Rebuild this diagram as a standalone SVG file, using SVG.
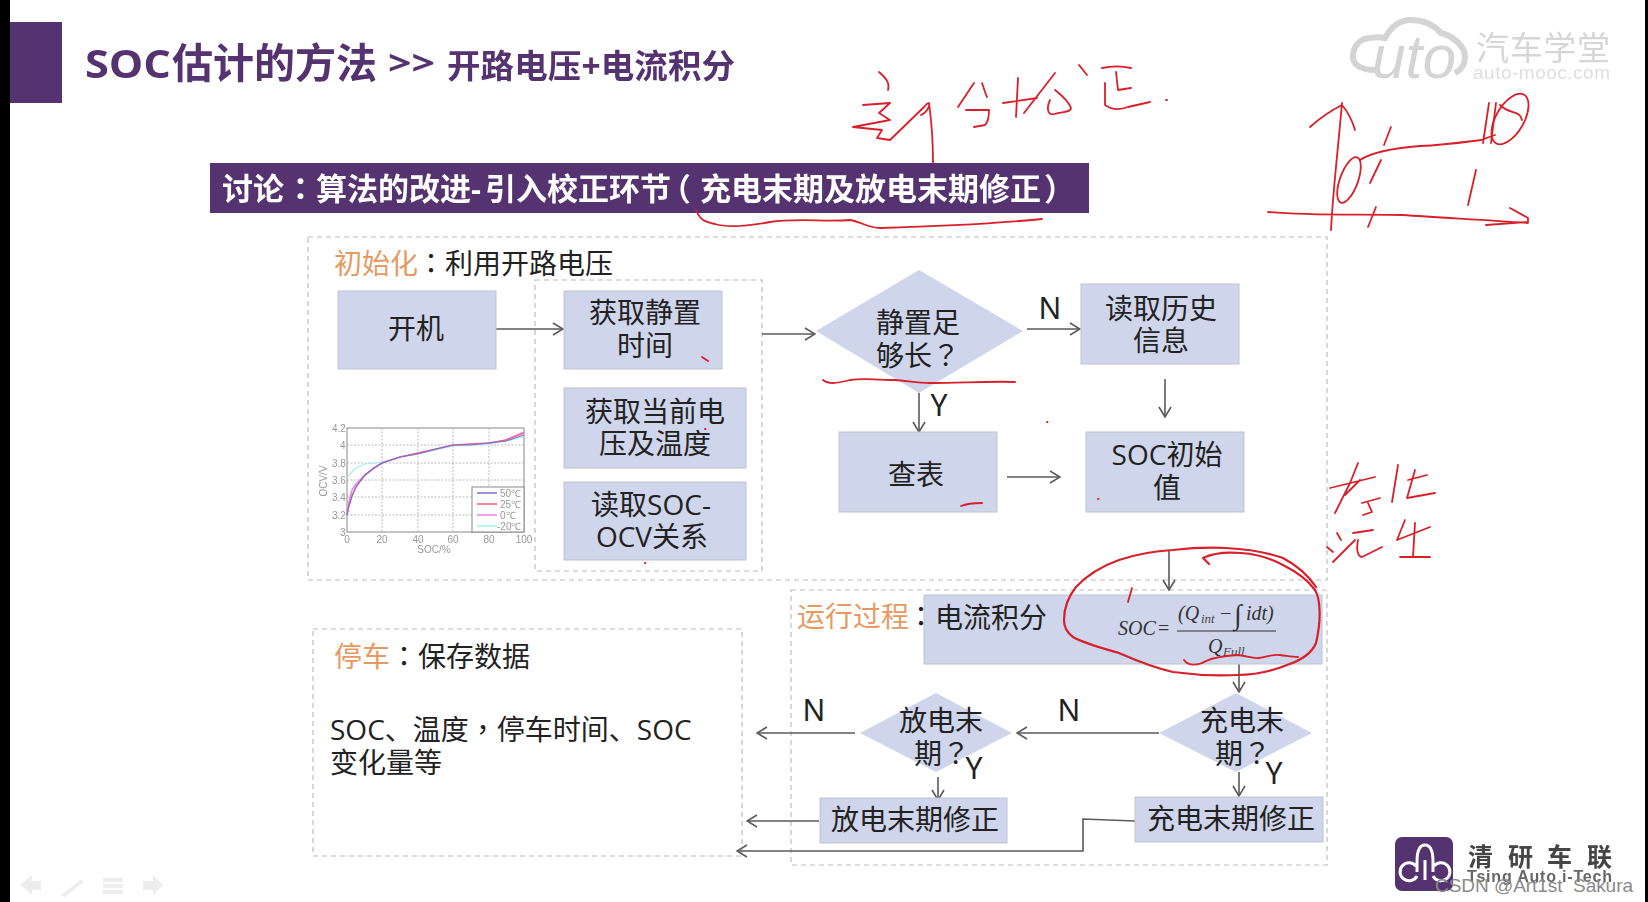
<svg xmlns="http://www.w3.org/2000/svg" width="1648" height="902" viewBox="0 0 1648 902">
<style>
text{font-family:"Open Sans","Noto Sans CJK SC",sans-serif;fill:#222;font-size:28px}
.p{font-family:"Noto Sans CJK TC",sans-serif}
.c{text-anchor:middle}
.box{fill:#cfd5ea;stroke:#bfc3d2;stroke-width:1}
.dash{fill:none;stroke:#bcbcbc;stroke-width:1.2;stroke-dasharray:5 4}
.or{fill:#e69a62}
.lab{font-family:"Noto Sans","Open Sans",sans-serif;font-size:30px;fill:#222}
.con{fill:none;stroke:#5a5a5a;stroke-width:1.6;marker-end:url(#ah)}
.ink{fill:none;stroke:#d8202a;stroke-width:1.8;stroke-linecap:round;stroke-linejoin:round}
.f{font-family:"Liberation Serif",serif;font-style:italic;font-size:20px;fill:#333}
.fs{font-family:"Liberation Serif",serif;font-style:italic;font-size:13px;fill:#444}
.tk{font-family:"Liberation Sans",sans-serif;font-size:10px;fill:#999}
.grid{stroke:#aaa;stroke-width:.8;stroke-dasharray:2 1.5;fill:none}
.nav{fill:#ededed}
</style>
<defs>
<marker id="ah" viewBox="0 0 12 14" refX="11" refY="7" markerWidth="12" markerHeight="14" markerUnits="userSpaceOnUse" orient="auto"><path d="M1 1L11 7L1 13" fill="none" stroke="#5a5a5a" stroke-width="1.6"/></marker>
<filter id="b1" x="-5%" y="-5%" width="110%" height="110%"><feGaussianBlur stdDeviation="0.7"/></filter>
<filter id="b2" x="-5%" y="-5%" width="110%" height="110%"><feGaussianBlur stdDeviation="0.35"/></filter>
</defs>
<rect width="1648" height="902" fill="#fff"/>
<g id="frame"><rect x="0" y="0" width="10" height="902" fill="#000"/><rect x="1645" y="0" width="3" height="902" fill="#000"/></g>

<g id="header" filter="url(#b2)">
<rect x="10" y="22" width="52" height="81" fill="#55306f"/>
<text x="85" y="78" font-weight="700" textLength="86" lengthAdjust="spacingAndGlyphs" style="font-size:40px;fill:#55306f">SOC</text>
<text x="172" y="78" font-weight="700" style="font-size:41px;fill:#55306f">估计的方法</text>
<text x="388" y="75" font-weight="700" textLength="47" lengthAdjust="spacingAndGlyphs" style="font-size:34px;fill:#55306f">&gt;&gt;</text>
<text x="447" y="78" font-weight="700" style="font-size:33.5px;fill:#55306f" textLength="288">开路电压+电流积分</text>
</g>
<g id="banner" filter="url(#b2)">
<rect x="210" y="163" width="879" height="50" fill="#55306f"/>
<text y="200" font-weight="700" style="font-size:31px;fill:#fff"><tspan x="222">讨论</tspan><tspan class="p" x="285">：</tspan><tspan x="316">算法的改进-</tspan><tspan x="485">引入校正环节</tspan><tspan x="660">（</tspan><tspan x="700">充电末期及放电末期修正</tspan><tspan x="1044">）</tspan></text>
</g>

<g id="autologo" filter="url(#b1)">
<path d="M1375 70C1360 70 1352 64 1353 55C1354 44 1362 38 1370 38C1375 37 1381 37 1385 38C1392 25 1402 20 1411 20C1423 20 1433 24 1441 33C1453 36 1465 46 1465 57C1465 65 1461 70 1455 73" fill="none" stroke="#d4d4d4" stroke-width="6"/>
<text x="1372" y="78" textLength="84" lengthAdjust="spacingAndGlyphs" style="font-family:'Liberation Sans',sans-serif;font-style:italic;font-size:62px;fill:#d4d4d4">uto</text>
<text x="1476" y="60" textLength="134" style="font-size:33px;fill:#d6d6d6">汽车学堂</text>
<text x="1473" y="79" textLength="137" style="font-family:'Liberation Sans',sans-serif;font-size:19px;fill:#dedede">auto-mooc.com</text>
</g>

<g id="regions">
<rect class="dash" x="308" y="237" width="1019" height="343"/>
<rect class="dash" x="535" y="280" width="227" height="291"/>
<rect class="dash" x="791" y="590" width="536" height="275"/>
<rect class="dash" x="313" y="629" width="429" height="227"/>
</g>

<g id="ocv-chart" filter="url(#b1)">
<rect x="347" y="428" width="177" height="104" fill="#fff" stroke="#888" stroke-width="1"/>
<path class="grid" d="M382 428V532M418 428V532M453 428V532M489 428V532M347 445H524M347 463H524M347 480H524M347 497H524M347 515H524"/>
<path d="M347 478C349 475 352 471 356 468L365 464L382 462L400 457L418 454L436 450L453 446L471 445L489 444L506 441L524 437" fill="none" stroke="#9ff0ee" stroke-width="1.2"/>
<path d="M347 512L349 502L352 490L356 484L365 475L374 468L382 463L400 457L418 453L436 449L453 445L471 444L489 443L506 440L524 432" fill="none" stroke="#ee80e8" stroke-width="1.6"/>
<path d="M347 515L349 506L352 496L356 487L365 475L374 468L382 463L400 457L418 453L436 449L453 445L471 444L489 443L506 440L524 433" fill="none" stroke="#e8606a" stroke-width="1.2"/>
<path d="M347 515L349 506L352 496L356 487L365 475L374 468L382 463L400 457L418 454L436 449L453 445L471 445L489 443L506 441L524 435" fill="none" stroke="#7a70cc" stroke-width="1.1"/>
<rect x="472" y="487" width="52" height="45" fill="#fff" stroke="#888" stroke-width="1"/>
<path d="M477 493H497" stroke="#7a70cc" stroke-width="1.5"/><path d="M477 504H497" stroke="#e8606a" stroke-width="1.5"/><path d="M477 515H497" stroke="#ee80e8" stroke-width="1.5"/><path d="M477 526H497" stroke="#9ff0ee" stroke-width="1.5"/>
<text class="tk" x="500" y="497">50℃</text><text class="tk" x="500" y="508">25℃</text><text class="tk" x="500" y="519">0℃</text><text class="tk" x="497" y="530">-20℃</text>
<text class="tk" x="332" y="432">4.2</text><text class="tk" x="340" y="449">4</text><text class="tk" x="332" y="467">3.8</text><text class="tk" x="332" y="484">3.6</text><text class="tk" x="332" y="501">3.4</text><text class="tk" x="332" y="519">3.2</text><text class="tk" x="340" y="536">3</text>
<text class="tk c" x="347" y="543">0</text><text class="tk c" x="382" y="543">20</text><text class="tk c" x="418" y="543">40</text><text class="tk c" x="453" y="543">60</text><text class="tk c" x="489" y="543">80</text><text class="tk c" x="524" y="543">100</text>
<text class="tk c" x="434" y="553">SOC/%</text>
<text class="tk c" transform="translate(327 481) rotate(-90)">OCV/V</text>
</g>

<g id="connectors">
<path class="con" d="M496 329H563"/>
<path class="con" d="M762 334H815"/>
<path class="con" d="M1027 329H1080"/>
<path class="con" d="M919 393V432"/>
<path class="con" d="M1165 379V417"/>
<path class="con" d="M1007 477H1060"/>
<path class="con" d="M1169 550V590"/>
<path class="con" d="M1239 664V692"/>
<path class="con" d="M1159 733H1017"/>
<path class="con" d="M855 733H757"/>
<path class="con" d="M938 777V800"/>
<path class="con" d="M1239 772V796"/>
<path class="con" d="M819 821H747"/>
<path class="con" d="M1135 821L1083 819V851H737"/>
</g>

<g id="label-init"><text x="334" y="274" class="or">初始化</text><text class="p" x="417" y="274">：</text><text x="445" y="274">利用开路电压</text></g>
<g id="node-start"><rect class="box" x="338" y="291" width="158" height="78"/><text class="c" x="416" y="339">开机</text></g>
<g id="node-rest"><rect class="box" x="564" y="291" width="158" height="78"/><text class="c" x="645" y="323">获取静置</text><text class="c" x="645" y="356">时间</text></g>
<g id="node-volt"><rect class="box" x="564" y="388" width="182" height="80"/><text class="c" x="655" y="422">获取当前电</text><text class="c" x="655" y="454">压及温度</text></g>
<g id="node-ocv"><rect class="box" x="564" y="482" width="182" height="78"/><text class="c" x="651" y="515">读取SOC-</text><text class="c" x="652" y="547">OCV关系</text></g>
<g id="node-enough"><polygon points="816,331 919,270 1023,331 919,393" fill="#cfd5ea"/><text x="876" y="333">静置足</text><text x="876" y="366">够长<tspan class="p">？</tspan></text></g>
<g id="node-history"><rect class="box" x="1081" y="284" width="158" height="80"/><text class="c" x="1161" y="319">读取历史</text><text class="c" x="1161" y="351">信息</text></g>
<g id="node-lookup"><rect class="box" x="839" y="432" width="158" height="80"/><text class="c" x="916" y="485">查表</text></g>
<g id="node-socinit"><rect class="box" x="1086" y="432" width="158" height="80"/><text class="c" x="1167" y="465">SOC初始</text><text class="c" x="1167" y="498">值</text></g>
<g id="label-n1"><text class="lab c" x="1050" y="319">N</text></g>
<g id="label-y1"><text class="lab c" x="939" y="416">Y</text></g>

<g id="node-integral"><rect class="box" x="924" y="595" width="398" height="69"/><text x="935" y="628">电流积分</text>
<text class="f" x="1118" y="635">SOC</text><text class="f" x="1158" y="635" style="font-style:normal">=</text>
<text class="f" x="1178" y="620">(Q</text><text class="fs" x="1201" y="623">int</text><text class="f" x="1220" y="620" style="font-style:normal">−</text><text class="f" x="1234" y="624" style="font-size:28px;font-style:normal">∫</text><text class="f" x="1246" y="620">idt)</text>
<path d="M1177 631H1276" stroke="#333" stroke-width="1.2"/>
<text class="f" x="1208" y="653">Q</text><text class="fs" x="1223" y="656">Full</text>
</g>
<g id="label-run"><text x="797" y="627" class="or">运行过程</text><text class="p" x="907" y="627">：</text></g>
<g id="node-chargeq"><polygon points="1159,733 1236,693 1312,733 1236,772" fill="#cfd5ea"/><text class="c" x="1242" y="731">充电末</text><text x="1215" y="764">期<tspan class="p">？</tspan></text></g>
<g id="node-dischargeq"><polygon points="860,733 936,693 1012,733 936,772" fill="#cfd5ea"/><text class="c" x="941" y="731">放电末</text><text x="914" y="764">期<tspan class="p">？</tspan></text></g>
<g id="node-chargefix"><rect class="box" x="1135" y="797" width="188" height="45"/><text x="1147" y="829">充电末期修正</text></g>
<g id="node-dischargefix"><rect class="box" x="820" y="798" width="187" height="45"/><text x="831" y="830">放电末期修正</text></g>
<g id="labels-run"><text class="lab c" x="1069" y="721">N</text><text class="lab c" x="814" y="721">N</text><text class="lab c" x="974" y="779">Y</text><text class="lab c" x="1274" y="784">Y</text></g>

<g id="node-stop"><text x="334" y="667" class="or">停车</text><text class="p" x="390" y="667">：</text><text x="418" y="667">保存数据</text>
<text x="330" y="740">SOC、温度<tspan class="p">，</tspan>停车时间、SOC</text><text x="330" y="773">变化量等</text></g>

<g id="ink">
<path class="ink" d="M696 210C700 220 705 222 715 224C728 228 748 226 770 222C795 218 825 222 850 220C862 222 868 228 880 228C915 227 990 224 1042 219"/>
<path class="ink" d="M879 72C886 78 890 83 888 90M863 105L890 103L879 113L890 120L853 127L882 130L877 138L890 140L924 107C928 102 930 102 929 106C928 110 924 114 921 115M929 103C932 125 933 145 933 163"/>
<path class="ink" d="M974 83L958 107M982 83C984 88 985 93 987 97M966 110L989 110C989 116 988 122 985 125L974 127"/>
<path class="ink" d="M1003 103L1037 98M1018 78L1016 117M1055 73L1024 113M1050 100C1046 108 1048 116 1054 114C1062 112 1071 112 1071 108C1068 100 1060 94 1055 90M1079 65L1087 75"/>
<path class="ink" d="M1102 68C1112 66 1122 66 1131 68M1116 72L1118 90L1131 88M1105 83L1105 105C1112 110 1120 110 1128 107L1150 102M1166 100h1"/>
<path class="ink" d="M1310 127C1320 118 1332 110 1342 105C1348 112 1352 120 1355 130M1342 103C1338 150 1333 190 1331 230M1268 212C1310 216 1360 214 1402 215C1445 218 1490 220 1528 223M1510 208L1528 218L1528 222L1486 225"/>
<path class="ink" d="M1360 160C1372 152 1395 148 1420 146C1445 145 1465 142 1481 140L1495 135"/>
<ellipse class="ink" cx="1349" cy="180" rx="9" ry="24" transform="rotate(20 1349 180)"/>
<ellipse class="ink" cx="1510" cy="119" rx="14" ry="28" transform="rotate(30 1510 119)"/>
<path class="ink" d="M1391 127L1384 145M1381 160L1370 183M1376 207L1368 227M1476 170L1468 205M1489 103L1483 143M1496 103L1491 143M1500 105C1510 115 1520 110 1522 120"/>
<path class="ink" d="M1330 488L1375 477M1358 463L1350 483L1335 513M1360 480L1345 495M1362 503L1380 498M1368 503L1372 512L1363 515"/>
<path class="ink" d="M1398 465L1392 502M1408 480L1427 475M1415 470L1407 498L1435 493"/>
<path class="ink" d="M1337 533L1341 540M1327 547L1333 552M1333 562L1355 540M1353 533L1373 530M1358 540C1356 550 1358 557 1362 557L1382 547"/>
<path class="ink" d="M1405 520L1397 540L1430 527M1415 523L1413 557M1400 557L1430 557"/>
<path class="ink" style="stroke-width:2.2" d="M1209 564L1203 558C1215 552 1228 552 1241 553C1258 554 1272 559 1283 565C1299 573 1310 583 1315 590C1321 600 1321 622 1316 643C1311 655 1299 661 1287 665C1270 672 1255 675 1237 675C1215 676 1195 675 1173 672C1150 667 1135 660 1119 653C1098 647 1083 643 1073 637C1066 632 1064 627 1064 620C1064 607 1068 597 1076 587C1088 574 1102 566 1119 560C1137 554 1155 551 1173 550C1190 548 1208 547 1226 548C1246 549 1266 552 1283 558C1296 565 1308 575 1316 587"/>
<path class="ink" d="M1132 588L1128 602"/>
<path class="ink" d="M1184 660C1188 666 1198 666 1206 661C1214 657 1224 656 1237 655C1245 655 1252 659 1259 658C1267 657 1272 654 1280 655C1288 656 1292 657 1298 657"/>
<path class="ink" d="M823 380C828 384 835 384 850 380C865 378 880 380 895 380C908 381 918 383 930 383C960 383 990 381 1015 382"/>
<path class="ink" d="M961 506C968 503 975 503 982 503M1047 422h.5M1098 499h.5M702 357L708 361M705 429h.5M645 563h.5"/>
</g>

<g id="nav">
<polygon class="nav" points="20,885 32,875 32,881 41,881 41,890 32,890 32,895"/>
<path d="M63 896L82 881" stroke="#ededed" stroke-width="4"/>
<path d="M103 880H123M103 886H123M103 892H123" stroke="#ededed" stroke-width="4.5"/>
<polygon class="nav" points="163,885 153,875 153,881 143,881 143,890 153,890 153,895"/>
</g>

<g id="qlogo" filter="url(#b2)">
<rect x="1395" y="837" width="58" height="54" rx="7" fill="#55306f"/>
<path d="M1416 866A9 9 0 1 0 1417 876M1417 872V862C1417 851 1420 845 1425 845C1430 845 1433 851 1433 862V872M1433 876A9 9 0 1 0 1434 866M1425 860V880" fill="none" stroke="#fff" stroke-width="3"/>
<text x="1468" y="866" style="font-size:25px;fill:#444;font-weight:700">清</text>
<text x="1508" y="866" style="font-size:25px;fill:#444;font-weight:700">研</text>
<text x="1547" y="866" style="font-size:25px;fill:#444;font-weight:700">车</text>
<text x="1587" y="866" style="font-size:25px;fill:#444;font-weight:700">联</text>
<text x="1467" y="882" textLength="145" style="font-family:'Liberation Sans',sans-serif;font-size:16px;font-weight:700;fill:#666">Tsing Auto i-Tech</text>
</g>
<g id="watermark"><text x="1435" y="892" textLength="198" style="font-family:'Liberation Sans',sans-serif;font-size:19px;fill:#8a8a8a;white-space:pre">CSDN @Art1st  Sakura</text></g>
</svg>
